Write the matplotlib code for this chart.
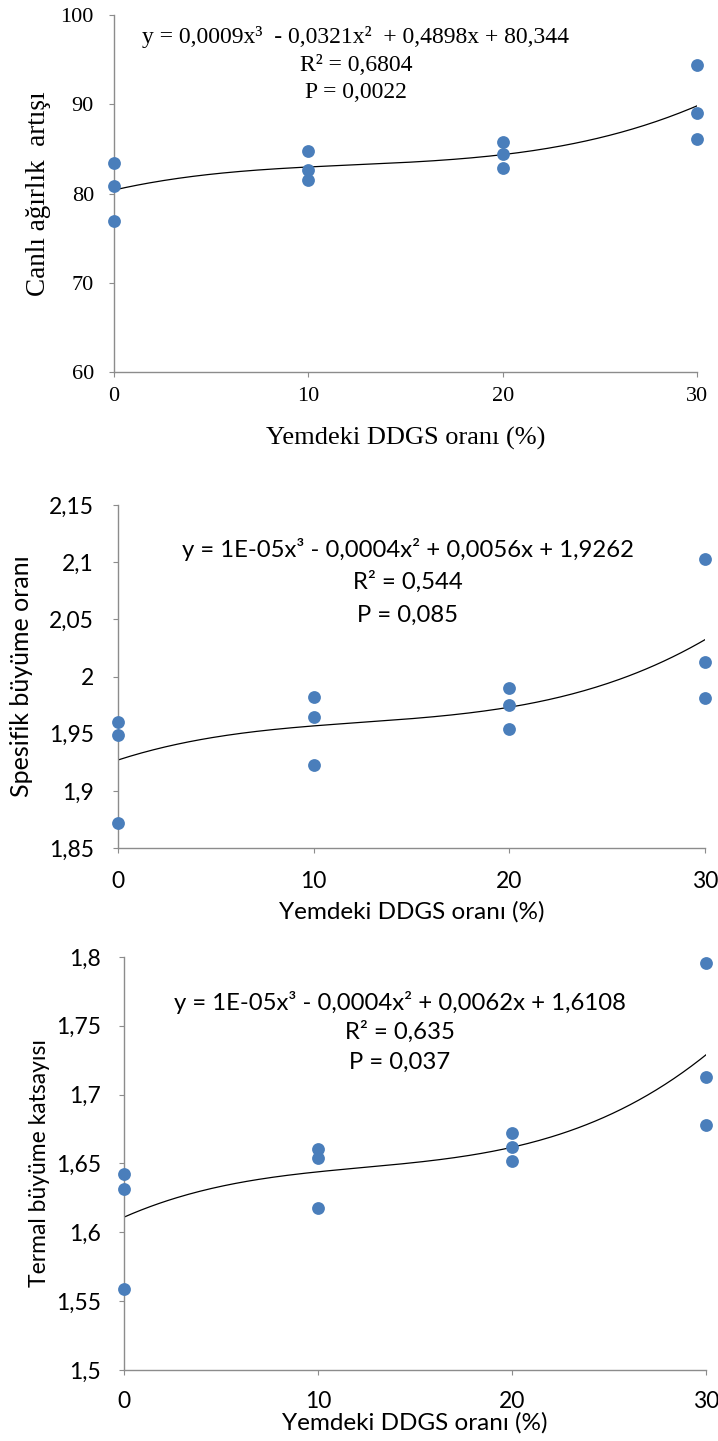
import numpy as np
import matplotlib
matplotlib.use("Agg")
import matplotlib.pyplot as plt

# DDGS ratio in feed (%)
ddgs = [0, 0, 0, 10, 10, 10, 20, 20, 20, 30, 30, 30]

# live weight gain
weight_gain = [83.4, 80.9, 76.9, 84.8, 82.65, 81.5, 85.8, 84.4, 82.9, 94.4, 89.0, 86.1]
# specific growth rate
sgr = [1.960, 1.949, 1.872, 1.9825, 1.965, 1.923, 1.990, 1.975, 1.9545, 2.1025, 2.013, 1.9813]
# thermal growth coefficient
tgc = [1.6427, 1.6318, 1.5585, 1.6604, 1.6541, 1.6173, 1.6718, 1.6619, 1.6516, 1.7956, 1.7129, 1.6783]

x_ticks = [0, 10, 20, 30]
y1_ticks = [60, 70, 80, 90, 100]
y1_labels = ["60", "70", "80", "90", "100"]
y2_ticks = [1.85, 1.90, 1.95, 2.00, 2.05, 2.10, 2.15]
y2_labels = ["1,85", "1,9", "1,95", "2", "2,05", "2,1", "2,15"]
y3_ticks = [1.50, 1.55, 1.60, 1.65, 1.70, 1.75, 1.80]
y3_labels = ["1,5", "1,55", "1,6", "1,65", "1,7", "1,75", "1,8"]

eq1 = ["y = 0,0009x³  - 0,0321x²  + 0,4898x + 80,344", "R² = 0,6804", "P = 0,0022"]
eq2 = ["y = 1E-05x³ - 0,0004x² + 0,0056x + 1,9262", "R² = 0,544", "P = 0,085"]
eq3 = ["y = 1E-05x³ - 0,0004x² + 0,0062x + 1,6108", "R² = 0,635", "P = 0,037"]

xlabel = "Yemdeki DDGS oranı (%)"
dot_color = "#4a7ebb"
spine_color = "#8c8c8c"

fig = plt.figure(figsize=(7.18, 14.41), dpi=100)

panels = [
    dict(rect=[0.1588, 0.7418, 0.812, 0.2477], y=weight_gain, ticks=y1_ticks, labels=y1_labels,
         ylim=(60, 100), ylabel="Canlı ağırlık  artışı", eq=eq1, font="Liberation Serif",
         eqsize=17, ticksize=16, xlsize=19, ylsize=19.5,
         eqx=0.415, eqy=[0.938, 0.860, 0.784], xpad=7, ypad=11,
         xl_y=-0.185, yl_x=-0.13),
    dict(rect=[0.1643, 0.4115, 0.8176, 0.2380], y=sgr, ticks=y2_ticks, labels=y2_labels,
         ylim=(1.85, 2.15), ylabel="Spesifik büyüme oranı", eq=eq2, font="Lato",
         eqsize=17.2, ticksize=16.5, xlsize=17.5, ylsize=18,
         eqx=0.494, eqy=[0.869, 0.776, 0.679], xpad=13, ypad=14,
         xl_y=-0.187, yl_x=-0.164),
    dict(rect=[0.1727, 0.0493, 0.8106, 0.2866], y=tgc, ticks=y3_ticks, labels=y3_labels,
         ylim=(1.5, 1.8), ylabel="Termal büyüme katsayısı", eq=eq3, font="Lato",
         eqsize=17.2, ticksize=16.5, xlsize=17.5, ylsize=16.5,
         eqx=0.474, eqy=[0.889, 0.818, 0.746], xpad=12, ypad=13,
         xl_y=-0.128, yl_x=-0.146),
]

xs = np.linspace(0, 30, 200)
for p in panels:
    ax = fig.add_axes(p["rect"])
    coef = np.polyfit(ddgs, p["y"], 3)
    ax.plot(xs, np.polyval(coef, xs), color="black", lw=0.9, zorder=2)
    ax.scatter(ddgs, p["y"], s=85, color=dot_color, zorder=3, clip_on=False, linewidths=0)
    ax.set_xlim(0, 30)
    ax.set_ylim(*p["ylim"])
    ax.set_xticks(x_ticks)
    ax.set_xticklabels([str(t) for t in x_ticks], family=p["font"], fontsize=p["ticksize"])
    ax.set_yticks(p["ticks"])
    ax.set_yticklabels(p["labels"], family=p["font"], fontsize=p["ticksize"])
    for s in ["top", "right"]:
        ax.spines[s].set_visible(False)
    for s in ["left", "bottom"]:
        ax.spines[s].set_color(spine_color)
        ax.spines[s].set_linewidth(1.0)
    ax.tick_params(direction="out", length=3.5, color=spine_color)
    ax.tick_params(axis="x", pad=p["xpad"])
    ax.tick_params(axis="y", pad=p["ypad"])
    ax.set_xlabel(xlabel, family=p["font"], fontsize=p["xlsize"], va="center")
    ax.xaxis.set_label_coords(0.5, p["xl_y"])
    ax.set_ylabel(p["ylabel"], family=p["font"], fontsize=p["ylsize"], va="center")
    ax.yaxis.set_label_coords(p["yl_x"], 0.5)
    for line, yy in zip(p["eq"], p["eqy"]):
        ax.text(p["eqx"], yy, line, transform=ax.transAxes, ha="center", va="center",
                family=p["font"], fontsize=p["eqsize"])

fig.savefig("out.png", dpi=100)
